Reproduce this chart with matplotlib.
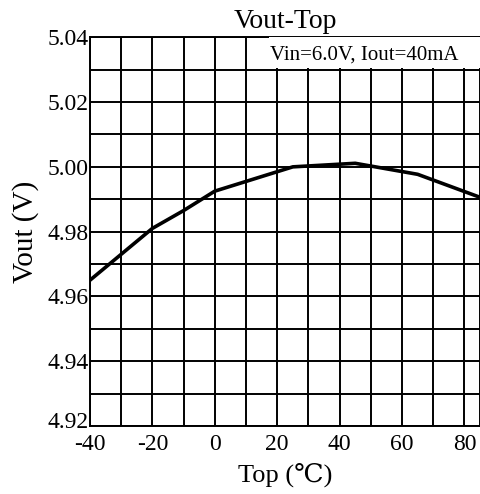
import numpy as np
import matplotlib.pyplot as plt
import matplotlib.transforms as mtransforms
from matplotlib.ticker import MultipleLocator
from matplotlib.patches import Rectangle

plt.rcParams['font.family'] = ['Liberation Serif', 'DejaVu Serif']
plt.rcParams['axes.unicode_minus'] = False

temp = [-40, -20, -10, 0, 25, 45, 65, 85]
vout = [4.965, 4.981, 4.9865, 4.9925, 5.0000, 5.0011, 4.9977, 4.9906]

fig = plt.figure(figsize=(4.81, 4.94), dpi=100)
ax = fig.add_axes([0.187, 0.1377, 0.811, 0.7868])

ax.plot(temp, vout, color='black', lw=2.6, solid_joinstyle='miter', zorder=3)

ax.set_xlim(-40, 85)
ax.set_ylim(4.92, 5.04)
ax.xaxis.set_major_locator(MultipleLocator(20))
ax.xaxis.set_minor_locator(MultipleLocator(10))
ax.yaxis.set_major_locator(MultipleLocator(0.02))
ax.yaxis.set_minor_locator(MultipleLocator(0.01))
ax.yaxis.set_major_formatter(plt.FormatStrFormatter('%.2f'))
ax.grid(which='both', color='black', lw=1.4)
ax.tick_params(which='both', length=0, labelsize=17)
ax.tick_params(axis='x', pad=6)
ax.tick_params(axis='y', pad=1)
for s in ax.spines.values():
    s.set_linewidth(1.4)

ax.set_title('Vout-Top', fontsize=20, pad=7)
ax.set_xlabel('Top (℃)', fontsize=19, labelpad=5)
ax.set_ylabel('Vout (V)', fontsize=21, labelpad=6)

# white label box in the upper right
ax.add_patch(Rectangle((0.46, 0.92), 0.54, 0.08, transform=ax.transAxes,
                       facecolor='white', edgecolor='none', zorder=3.5))
ax.text(0.944, 0.955, 'Vin=6.0V, Iout=40mA', transform=ax.transAxes,
        ha='right', va='center', fontsize=15, zorder=4)

# nudge the bottom y label up a little, as in the original
fig.canvas.draw()
lift = mtransforms.ScaledTranslation(0, 4 / 72, fig.dpi_scale_trans)
for t in ax.yaxis.get_major_ticks():
    if t.get_loc() is not None and abs(t.get_loc() - 4.92) < 1e-6:
        t.label1.set_transform(t.label1.get_transform() + lift)

fig.savefig('out.png', dpi=100)
